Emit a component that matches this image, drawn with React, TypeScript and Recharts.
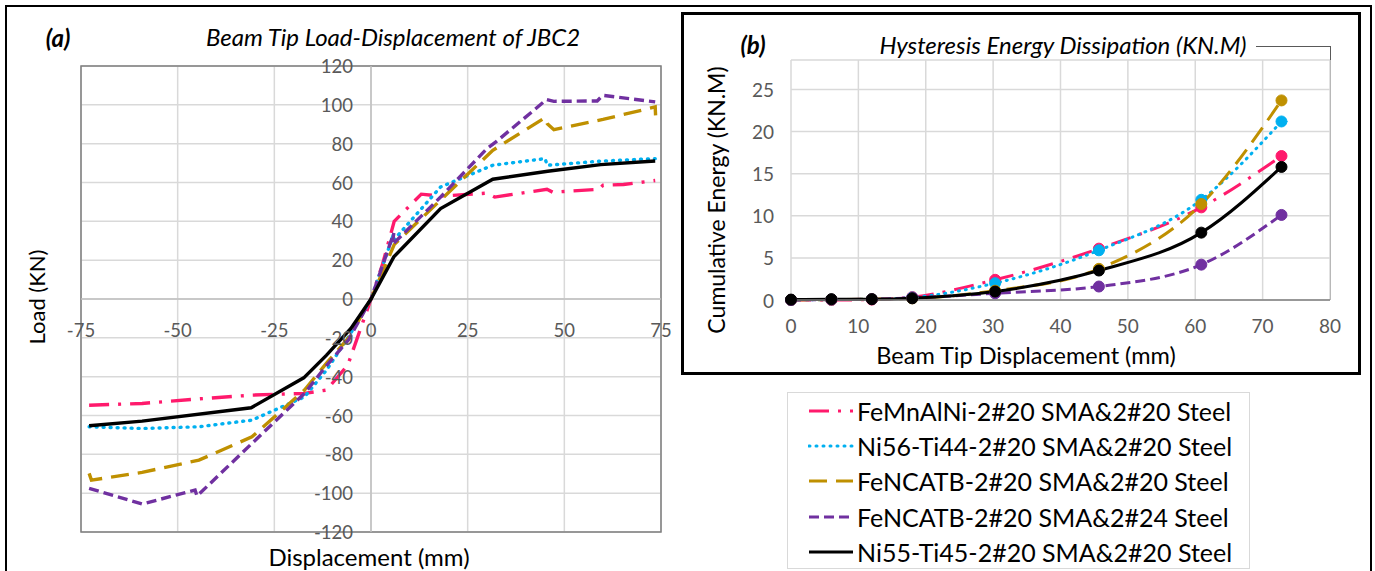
import { CartesianGrid, Line, LineChart, ReferenceArea, ReferenceLine, XAxis, YAxis } from "recharts";

const FONT = "Lato, 'Open Sans', sans-serif";

// (a) beam tip load-displacement envelopes: displacement (mm) / load (KN)
const feMnAlNiDisp = [-72.9, -59.2, -45, -30.8, -17.2, -11.5, -6, -3, 0, 3, 6, 13, 18, 30, 32, 45.5, 47, 59, 60, 65.3, 73.5];
const feMnAlNiLoad = [-54.7, -53.8, -51.5, -49.5, -48.6, -46.9, -34, -17, 0, 18, 40, 54, 53, 54.5, 52.5, 56.5, 55, 56.5, 58.6, 59, 61];
const ni56Disp = [-72.9, -59.2, -44.5, -30.8, -17.2, -11.5, -5.8, 0, 5.9, 4.8, 18, 31.5, 45, 45.6, 59.4, 73.5];
const ni56Load = [-65.8, -66.7, -65.8, -62.4, -50.4, -36.6, -19.5, 0, 33.7, 28, 57.7, 68.9, 72.3, 68.9, 71, 72.3];
const feNcatb20Disp = [-72.9, -72.3, -59.2, -44.5, -30.8, -17.2, -11.5, -5.8, 0, 6, 18, 31.5, 45, 45.6, 47.3, 60, 73.5, 73.6];
const feNcatb20Load = [-89.8, -93.3, -89.3, -83, -71, -46.9, -33, -20, 0, 28, 51, 76.6, 93.4, 90.3, 87.2, 92.5, 98.9, 94.6];
const feNcatb24Disp = [-72.9, -59.2, -45.5, -45, -30.8, -17.2, -11.5, -5.8, 0, 5.9, 5.5, 18, 30, 32.3, 45.4, 47.3, 58.5, 59.9, 73.5];
const feNcatb24Load = [-97.5, -105.6, -98.4, -101.5, -74.4, -48.6, -34.3, -21, 0, 34, 28, 52.5, 77.5, 80.9, 102.7, 101.8, 102, 104.9, 101.5];
const ni55Disp = [-72.9, -59.2, -31, -17.4, -11.5, -5.2, 0, 5.9, 18, 31.5, 45.7, 59.4, 73.5];
const ni55Load = [-65.3, -62.9, -56, -40.6, -28.9, -15.2, 0, 21.7, 46.6, 61.7, 65.8, 69.2, 71.1];

const dispTicksA = [-75, -50, -25, 0, 25, 50, 75];
const loadTicksA = [-120, -100, -80, -60, -40, -20, 0, 20, 40, 60, 80, 100, 120];

// (b) cumulative hysteresis energy (KN.M) at each beam tip displacement (mm)
const energyDisp = [0, 6, 12, 18, 30.3, 45.7, 60.9, 72.8];
const energyFeMnAlNi = [0, 0, 0.05, 0.35, 2.4, 6.1, 11.0, 17.1];
const energyNi56 = [0, 0.05, 0.1, 0.3, 2.0, 5.9, 11.9, 21.2];
const energyFeNcatb20 = [0, 0.05, 0.1, 0.2, 1.1, 3.7, 11.4, 23.7];
const energyFeNcatb24 = [0, 0.05, 0.1, 0.25, 0.8, 1.6, 4.2, 10.1];
const energyNi55 = [0.05, 0.1, 0.1, 0.2, 1.0, 3.5, 8.0, 15.8];

const dispTicksB = [0, 10, 20, 30, 40, 50, 60, 70, 80];
const energyTicksB = [0, 5, 10, 15, 20, 25];

const seriesNames = [
  "FeMnAlNi-2#20 SMA&2#20 Steel",
  "Ni56-Ti44-2#20 SMA&2#20 Steel",
  "FeNCATB-2#20 SMA&2#20 Steel",
  "FeNCATB-2#20 SMA&2#24 Steel",
  "Ni55-Ti45-2#20 SMA&2#20 Steel",
];

const styles = [
  { color: "#FF1A6C", dash: "20 9 3 9", cap: "butt" as const },
  { color: "#00B0F0", dash: "1 6", cap: "round" as const },
  { color: "#BF9000", dash: "18 9", cap: "butt" as const },
  { color: "#7030A0", dash: "10 5", cap: "butt" as const },
  { color: "#000000", dash: undefined, cap: "butt" as const },
];

const zip = (xs: number[], ys: number[]) => xs.map((x, i) => ({ x, y: ys[i] }));

const curvesA = [
  zip(feMnAlNiDisp, feMnAlNiLoad),
  zip(ni56Disp, ni56Load),
  zip(feNcatb20Disp, feNcatb20Load),
  zip(feNcatb24Disp, feNcatb24Load),
  zip(ni55Disp, ni55Load),
];

const energyRows = energyDisp.map((d, i) => ({
  disp: d,
  s0: energyFeMnAlNi[i],
  s1: energyNi56[i],
  s2: energyFeNcatb20[i],
  s3: energyFeNcatb24[i],
  s4: energyNi55[i],
}));

// chart (a) geometry: plot box 81..661 x 66..532
const A_W = 690;
const A_H = 571;
const A_MARGIN = { top: 66, right: 29, bottom: 9, left: 41 };
const A_AXIS_H = 30;
const A_AXIS_W = 40;
const A_LEFT = A_MARGIN.left + A_AXIS_W;
const A_BOTTOM = A_H - A_MARGIN.bottom - A_AXIS_H;
const A_ZERO_X = A_LEFT + (A_W - A_LEFT - A_MARGIN.right) / 2;
const A_ZERO_Y = A_MARGIN.top + (A_BOTTOM - A_MARGIN.top) / 2;

// chart (b) geometry: plot box 791..1330 x 60..300
const B_W = 678;
const B_H = 361;
const B_MARGIN = { top: 47, right: 30, bottom: 44, left: 59 };
const B_AXIS_H = 30;
const B_AXIS_W = 50;
const B_LEFT = B_MARGIN.left + B_AXIS_W;
const B_BOTTOM = B_H - B_MARGIN.bottom - B_AXIS_H;

const tickText = { fontFamily: FONT, fill: "#595959" };

const Label = ({ x, y, text, size = 22, italic = false, bold = false, rotate = false }: any) => (
  <div
    style={{
      position: "absolute",
      left: x,
      top: y,
      transform: `translate(-50%, -50%)${rotate ? " rotate(-90deg)" : ""}`,
      whiteSpace: "nowrap",
      fontFamily: FONT,
      fontSize: size,
      fontStyle: italic ? "italic" : "normal",
      fontWeight: bold ? 700 : 400,
      color: "#000",
      lineHeight: 1,
    }}
  >
    {text}
  </div>
);

const ChartA = () => (
  <LineChart width={A_W} height={A_H} margin={A_MARGIN} style={{ position: "absolute", left: 0, top: 0 }}>
    <CartesianGrid stroke="#d9d9d9" strokeWidth={1.5} />
    <XAxis
      dataKey="x"
      type="number"
      domain={[-75, 75]}
      ticks={dispTicksA}
      interval={0}
      height={A_AXIS_H}
      axisLine={false}
      tickLine={false}
      allowDuplicatedCategory={false}
      tick={(p: any) => (
        <text x={p.x} y={A_ZERO_Y + 31} textAnchor="middle" dominantBaseline="central" fontSize={18.5} {...tickText}>
          {p.payload.value}
        </text>
      )}
    />
    <YAxis
      type="number"
      domain={[-120, 120]}
      ticks={loadTicksA}
      interval={0}
      width={A_AXIS_W}
      axisLine={false}
      tickLine={false}
      tick={(p: any) => (
        <text x={A_ZERO_X - 18} y={p.y} textAnchor="end" dominantBaseline="central" fontSize={18.5} {...tickText}>
          {p.payload.value}
        </text>
      )}
    />
    <ReferenceLine x={0} stroke="#bfbfbf" strokeWidth={1.5} />
    <ReferenceLine y={0} stroke="#bfbfbf" strokeWidth={1.5} />
    <ReferenceArea x1={-75} x2={75} y1={-120} y2={120} fill="none" stroke="#7f7f7f" strokeWidth={1.5} />
    {curvesA.map((data, i) => (
      <Line
        key={seriesNames[i]}
        data={data}
        dataKey="y"
        type="linear"
        stroke={styles[i].color}
        strokeWidth={3.4}
        strokeDasharray={styles[i].dash}
        strokeLinecap={styles[i].cap}
        dot={false}
        isAnimationActive={false}
      />
    ))}
  </LineChart>
);

const ChartB = () => (
  <LineChart
    width={B_W}
    height={B_H}
    data={energyRows}
    margin={B_MARGIN}
    style={{ position: "absolute", left: 682, top: 13 }}
  >
    <CartesianGrid stroke="#d9d9d9" strokeWidth={1.5} />
    <XAxis
      dataKey="disp"
      type="number"
      domain={[0, 80]}
      ticks={dispTicksB}
      interval={0}
      height={B_AXIS_H}
      axisLine={{ stroke: "#7f7f7f", strokeWidth: 1.5 }}
      tickLine={false}
      tick={(p: any) => (
        <text x={p.x} y={B_BOTTOM + 25} textAnchor="middle" dominantBaseline="central" fontSize={19} {...tickText}>
          {p.payload.value}
        </text>
      )}
    />
    <YAxis
      type="number"
      domain={[0, 28.5]}
      ticks={energyTicksB}
      interval={0}
      width={B_AXIS_W}
      axisLine={false}
      tickLine={false}
      tick={(p: any) => (
        <text x={B_LEFT - 17} y={p.y} textAnchor="end" dominantBaseline="central" fontSize={19} {...tickText}>
          {p.payload.value}
        </text>
      )}
    />
    {styles.map((s, i) => (
      <Line
        key={seriesNames[i]}
        dataKey={`s${i}`}
        type="monotone"
        stroke={s.color}
        strokeWidth={3}
        strokeDasharray={s.dash}
        strokeLinecap={s.cap}
        dot={{ r: 5.5, fill: s.color, stroke: s.color, strokeWidth: 1, strokeDasharray: "" }}
        isAnimationActive={false}
      />
    ))}
  </LineChart>
);

const LegendBox = () => (
  <div
    style={{
      position: "absolute",
      left: 787,
      top: 392,
      width: 463,
      height: 177,
      boxSizing: "border-box",
      border: "1px solid #d9d9d9",
      fontFamily: FONT,
    }}
  >
    {seriesNames.map((name, i) => (
      <div key={name} style={{ height: 35.3, display: "flex", alignItems: "center", paddingLeft: 20 }}>
        <svg width={46} height={8} style={{ marginRight: 3 }}>
          <line
            x1={1}
            y1={4}
            x2={45}
            y2={4}
            stroke={styles[i].color}
            strokeWidth={3}
            strokeDasharray={styles[i].dash}
            strokeLinecap={styles[i].cap}
          />
        </svg>
        <span style={{ fontSize: 25, color: "#000", whiteSpace: "nowrap" }}>{name}</span>
      </div>
    ))}
  </div>
);

export default function App() {
  return (
    <div style={{ position: "absolute", left: 0, top: 0, width: 1375, height: 571, overflow: "hidden", background: "#fff" }}>
      <div style={{ position: "absolute", left: 5, top: 5, width: 1367, height: 600, border: "2px solid #000", boxSizing: "border-box" }} />
      <div style={{ position: "absolute", left: 681, top: 12, width: 680, height: 363, border: "3px solid #000", boxSizing: "border-box" }} />
      <div style={{ position: "absolute", left: 1256, top: 46, width: 75, height: 254, borderTop: "1.5px solid #595959", borderRight: "1.5px solid #595959", boxSizing: "border-box" }} />
      <ChartA />
      <ChartB />
      <Label x={58} y={38} text="(a)" size={24} italic bold />
      <Label x={393} y={37} text="Beam Tip Load-Displacement of JBC2" size={24} italic />
      <Label x={37} y={297} text="Load (KN)" size={22} rotate />
      <Label x={369} y={557} text="Displacement (mm)" size={24} />
      <Label x={753} y={45} text="(b)" size={24} italic bold />
      <Label x={1063} y={45} text="Hysteresis Energy Dissipation (KN.M)" size={24} italic />
      <Label x={716} y={200} text="Cumulative Energy (KN.M)" size={23} rotate />
      <Label x={1026} y={356} text="Beam Tip Displacement (mm)" size={23.5} />
      <LegendBox />
    </div>
  );
}
